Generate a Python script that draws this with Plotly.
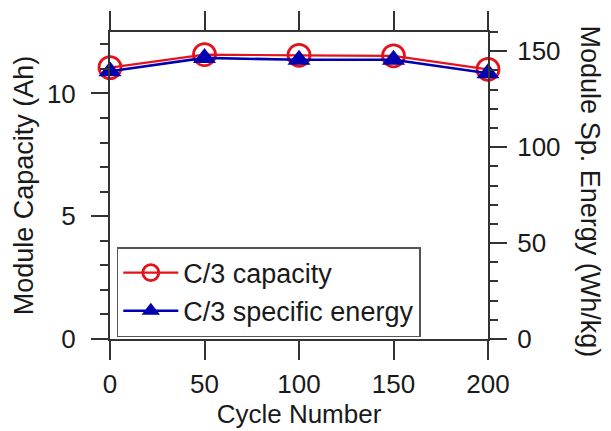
import plotly.graph_objects as go

# Cycle-life data for the module
cycles = [0, 50, 100, 150, 200]
capacity_ah = [11.05, 11.58, 11.55, 11.53, 10.98]
specific_energy_whkg = [139.5, 146.5, 145.5, 145.5, 138.5]

FONT = "Liberation Sans, Arial, sans-serif"
INK = "#1a1a1a"
AXIS = "#333333"
RED = "#e3121b"
BLUE = "#0000b0"

fig = go.Figure()

fig.add_trace(go.Scatter(
    x=cycles, y=capacity_ah, name="C/3 capacity",
    mode="lines+markers", cliponaxis=False,
    line=dict(color=RED, width=2.2),
    marker=dict(symbol="circle-open", size=22, color=RED, line=dict(width=2.8, color=RED)),
    yaxis="y",
))
fig.add_trace(go.Scatter(
    x=cycles, y=specific_energy_whkg, name="C/3 specific energy",
    mode="lines+markers", cliponaxis=False,
    line=dict(color=BLUE, width=2.6),
    marker=dict(symbol="triangle-up", size=20, color=BLUE),
    yaxis="y2",
))

axis_common = dict(
    showgrid=False, zeroline=False, showline=True,
    linecolor=AXIS, linewidth=2,
    ticks="outside", tickcolor=AXIS, tickwidth=2,
    tickfont=dict(family=FONT, size=26, color=INK),
)

fig.update_layout(
    width=611, height=431,
    margin=dict(l=110, r=123, t=32, b=92),
    paper_bgcolor="white", plot_bgcolor="white",
    font=dict(family=FONT, color=INK),
    xaxis=dict(
        range=[0, 200], tickmode="array", tickvals=[0, 50, 100, 150, 200],
        ticklen=19, mirror="ticks", ticklabelstandoff=2,
        title=dict(text="Cycle Number", font=dict(family=FONT, size=26, color=INK), standoff=2),
        **axis_common,
    ),
    yaxis=dict(
        range=[0, 12.5], tickmode="array", tickvals=[0, 5, 10], ticklen=17,
        ticklabelstandoff=10,
        minor=dict(dtick=1, ticks="outside", ticklen=8, tickwidth=1.6, tickcolor=AXIS),
        **axis_common,
    ),
    yaxis2=dict(
        range=[0, 160], overlaying="y", side="right", anchor="x",
        tickmode="array", tickvals=[0, 50, 100, 150], ticklen=17,
        ticklabelstandoff=5,
        minor=dict(dtick=10, ticks="outside", ticklen=8, tickwidth=1.6, tickcolor=AXIS),
        **axis_common,
    ),
    legend=dict(
        x=0.018, y=0.006, xanchor="left", yanchor="bottom",
        bgcolor="white", bordercolor="#555555", borderwidth=1.5,
        font=dict(family=FONT, size=27, color=INK),
        tracegroupgap=0, itemwidth=55,
    ),
    showlegend=True,
    annotations=[
        dict(text="Module Capacity (Ah)", xref="paper", yref="paper",
             x=-0.228, y=0.5, xanchor="center", yanchor="middle",
             textangle=-90, showarrow=False,
             font=dict(family=FONT, size=27, color=INK)),
        dict(text="Module Sp. Energy (Wh/kg)", xref="paper", yref="paper",
             x=1.27, y=0.48, xanchor="center", yanchor="middle",
             textangle=90, showarrow=False,
             font=dict(family=FONT, size=27, color=INK)),
    ],
)

fig.write_html("out.html")
